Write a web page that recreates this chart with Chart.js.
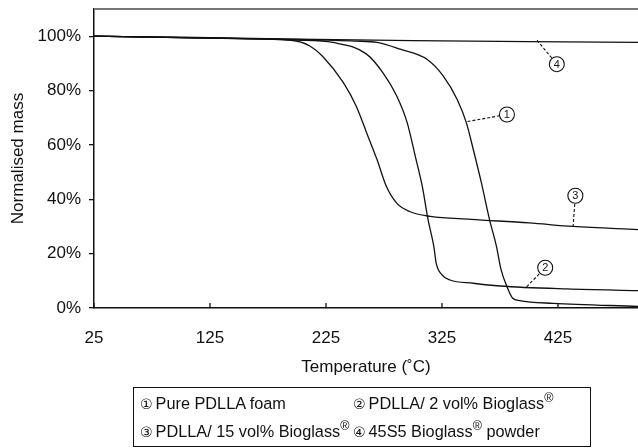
<!DOCTYPE html>
<html lang="en">
<head>
    <meta charset="UTF-8">
    <title>Normalised mass vs temperature</title>
    <script src="https://cdn.jsdelivr.net/npm/chart.js"></script>
    <style>
        * { box-sizing: border-box; margin: 0; padding: 0; }
        body { background: #fff; font-family: "Liberation Sans", Arial, Helvetica, sans-serif; color: #111; }
        .wrap { position: relative; width: 638px; height: 448px; }
        .legend {
            position: absolute; left: 133px; top: 387px; width: 458px; height: 60px;
            border: 1px solid #111; font-size: 16.3px; line-height: 27px; padding: 2px 0 0 6px;
        }
        .legend .row { display: flex; white-space: nowrap; }
        .legend .c1 { width: 213px; }
        .legend .n { font-family: "DejaVu Sans", sans-serif; font-size: 14px; margin-right: 3px; }
        .legend sup { font-size: 12.5px; line-height: 0; position: relative; top: -1px; }
    </style>
</head>
<body>
<div class="wrap">
    <canvas id="tgaChart" width="638" height="448"></canvas>
    <div class="legend">
        <div class="row">
            <div class="c1"><span class="n">①</span>Pure PDLLA foam</div>
            <div><span class="n">②</span>PDLLA/ 2 vol% Bioglass<sup>®</sup></div>
        </div>
        <div class="row">
            <div class="c1"><span class="n">③</span>PDLLA/ 15 vol% Bioglass<sup>®</sup></div>
            <div><span class="n">④</span>45S5 Bioglass<sup>®</sup> powder</div>
        </div>
    </div>
</div>

<script>
    // Temperature (°C) and normalised mass (%)
    const tempPure = [25, 100, 200, 250, 269, 289, 312, 326, 338, 346, 352, 359, 366, 372, 376, 381, 386, 392, 421, 494];
    const massPure = [100, 99.5, 98.8, 98.2, 97.7, 95.2, 91.5, 85.4, 76.8, 68.2, 58.3, 46, 32.5, 22.6, 14, 7.9, 3.6, 2.7, 1.7, 0.6];

    const temp2vol = [25, 100, 200, 231, 260, 274, 286, 295, 302, 308, 313, 318, 320, 325, 332, 352, 375, 433, 494];
    const mass2vol = [100, 99.5, 98.6, 97.7, 93.4, 86.6, 78, 68.2, 55.8, 44.8, 32.5, 22.6, 16.5, 12.2, 10.3, 9.1, 8.1, 7, 6.4];

    const temp15vol = [25, 100, 150, 195, 211, 222, 240, 251, 260, 269, 277, 286, 297, 315, 350, 400, 438, 494];
    const mass15vol = [100, 99.5, 99.1, 98.5, 96.4, 92.6, 82.9, 74.3, 64.5, 54.6, 44.8, 38.6, 35.5, 33.7, 32.6, 31.3, 30, 28.8];

    const tempPowder = [25, 100, 200, 300, 400, 494];
    const massPowder = [100, 99.6, 98.9, 98.4, 98, 97.7];

    const xTicks = [25, 125, 225, 325, 425];
    const yTicks = [0, 20, 40, 60, 80, 100];

    // circled callouts: leader starts on a curve (from) and ends at the circle (at)
    const labelNames = ['1', '2', '3', '4'];
    const labelFromT = [347, 398, 438, 407];
    const labelFromM = [68.6, 7.8, 29.8, 98.5];
    const labelAtT = [381, 414, 440, 424];
    const labelAtM = [71.2, 14.8, 41.3, 89.7];

    const pts = (xs, ys) => xs.map((x, i) => ({ x: x, y: ys[i] }));
    const FONT = '"Liberation Sans", Arial, Helvetica, sans-serif';
    const INK = '#111';

    const lineStyle = {
        borderColor: INK, borderWidth: 1.3, pointRadius: 0,
        cubicInterpolationMode: 'monotone', fill: false
    };

    const framePlugin = {
        id: 'frame',
        afterDraw(chart) {
            const { ctx, chartArea: a, scales: { x, y } } = chart;
            ctx.save();
            // grey top border
            ctx.strokeStyle = '#777';
            ctx.lineWidth = 2;
            ctx.beginPath();
            ctx.moveTo(a.left, a.top);
            ctx.lineTo(a.right, a.top);
            ctx.stroke();
            // x ticks pointing inwards
            ctx.strokeStyle = INK;
            ctx.lineWidth = 1.3;
            xTicks.forEach(t => {
                const px = x.getPixelForValue(t);
                ctx.beginPath();
                ctx.moveTo(px, a.bottom);
                ctx.lineTo(px, a.bottom - 5);
                ctx.stroke();
            });
            // circled callouts
            labelNames.forEach((n, i) => {
                const x0 = x.getPixelForValue(labelFromT[i]), y0 = y.getPixelForValue(labelFromM[i]);
                const x1 = x.getPixelForValue(labelAtT[i]), y1 = y.getPixelForValue(labelAtM[i]);
                const r = 7.5;
                const ang = Math.atan2(y0 - y1, x0 - x1);
                ctx.setLineDash([3, 2]);
                ctx.lineWidth = 1.1;
                ctx.beginPath();
                ctx.moveTo(x0, y0);
                ctx.lineTo(x1 + r * Math.cos(ang), y1 + r * Math.sin(ang));
                ctx.stroke();
                ctx.setLineDash([]);
                ctx.fillStyle = '#fff';
                ctx.beginPath();
                ctx.arc(x1, y1, r, 0, Math.PI * 2);
                ctx.fill();
                ctx.stroke();
                ctx.fillStyle = INK;
                ctx.font = '11px ' + FONT;
                ctx.textAlign = 'center';
                ctx.textBaseline = 'middle';
                ctx.fillText(n, x1, y1 + 0.5);
            });
            ctx.restore();
        }
    };

    new Chart(document.getElementById('tgaChart'), {
        type: 'line',
        data: {
            datasets: [
                { label: 'Pure PDLLA foam', data: pts(tempPure, massPure), ...lineStyle },
                { label: 'PDLLA/ 2 vol% Bioglass', data: pts(temp2vol, mass2vol), ...lineStyle },
                { label: 'PDLLA/ 15 vol% Bioglass', data: pts(temp15vol, mass15vol), ...lineStyle },
                { label: '45S5 Bioglass powder', data: pts(tempPowder, massPowder), ...lineStyle }
            ]
        },
        options: {
            responsive: false,
            animation: false,
            layout: { padding: { top: 9, right: 0, bottom: 70, left: 0 } },
            plugins: { legend: { display: false }, tooltip: { enabled: false } },
            scales: {
                x: {
                    type: 'linear', min: 25, max: 494,
                    afterBuildTicks: s => { s.ticks = xTicks.map(v => ({ value: v })); },
                    afterFit: s => { s.height = 70; s.paddingLeft = 0; s.paddingRight = 0; },
                    grid: { display: true, drawOnChartArea: false, drawTicks: false },
                    border: { color: INK, width: 1.5 },
                    ticks: { color: INK, font: { family: FONT, size: 17 }, padding: 20, maxRotation: 0 },
                    title: { display: true, text: 'Temperature (˚C)', color: INK, font: { family: FONT, size: 17 }, padding: 0 }
                },
                y: {
                    min: 0, max: 110,
                    afterBuildTicks: s => { s.ticks = yTicks.map(v => ({ value: v })); },
                    afterFit: s => { s.width = 94; s.paddingTop = 0; s.paddingBottom = 0; },
                    grid: { drawOnChartArea: false, drawTicks: true, tickLength: 5, color: INK, lineWidth: 1.3 },
                    border: { color: INK, width: 1.5 },
                    ticks: { color: INK, font: { family: FONT, size: 17 }, padding: 8, callback: v => v + '%' },
                    title: { display: true, text: 'Normalised mass', color: INK, font: { family: FONT, size: 17 }, padding: { top: 8, bottom: 0 } }
                }
            }
        },
        plugins: [framePlugin]
    });
</script>
</body>
</html>
